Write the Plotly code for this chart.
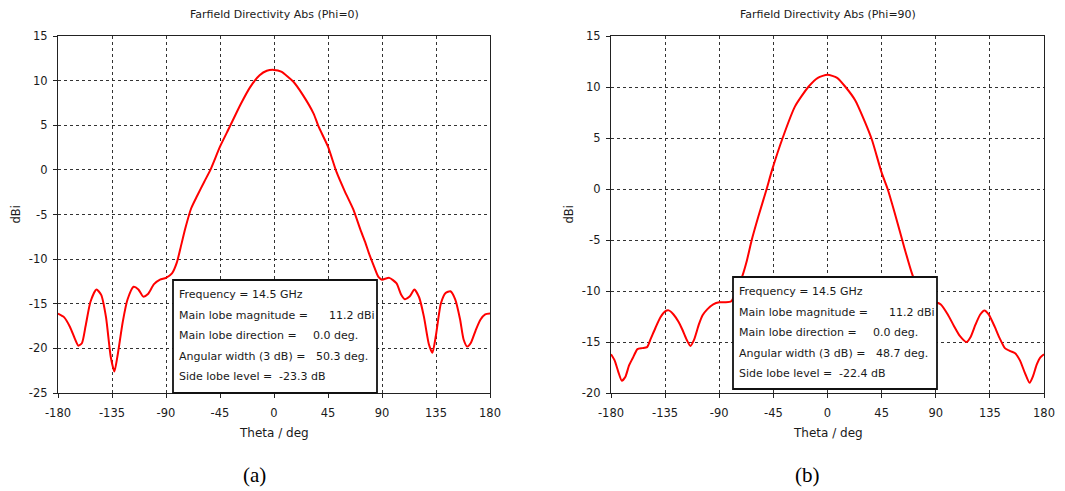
import plotly.graph_objects as go

W, H = 1065, 491

# Farfield directivity cut, Phi = 0
theta_phi0 = [-180, -175, -170, -166, -163, -160, -157, -153, -148, -144, -140, -136, -133,
              -130, -126, -122, -117, -113, -109, -105, -100, -95, -90, -85, -81, -78, -74,
              -69, -64, -58, -53, -45, -37, -28, -20, -12, -6, 0, 6, 16, 24, 33, 37, 45, 52,
              59, 66, 72, 76, 79, 83, 87, 90, 96, 102, 106, 109, 113, 117, 121, 125, 129, 132,
              135, 139, 143, 147, 151, 155, 158, 161, 164, 168, 172, 176, 180]
dir_phi0 = [-16.1, -16.5, -17.6, -18.9, -19.7, -19.4, -17.5, -14.8, -13.4, -14.0, -16.5, -21.0,
            -22.6, -20.5, -17.0, -14.5, -13.1, -13.4, -14.2, -13.9, -12.8, -12.3, -12.1, -11.6,
            -10.4, -8.8, -6.6, -4.3, -2.9, -1.3, 0.0, 2.6, 4.8, 7.3, 9.25, 10.6, 11.1, 11.2,
            11.0, 9.9, 8.4, 6.3, 4.9, 2.6, -0.2, -2.4, -4.4, -6.7, -8.1, -9.3, -10.7, -12.0,
            -12.3, -12.1, -12.7, -14.0, -14.5, -14.2, -13.4, -14.3, -16.5, -19.5, -20.5, -18.5,
            -15.0, -13.8, -13.6, -14.5, -16.7, -19.0, -19.8, -19.4, -18.0, -16.8, -16.2, -16.1]

# Farfield directivity cut, Phi = 90
theta_phi90 = [-180, -177, -174, -171, -168, -165, -162, -158, -154, -150, -147, -143, -139,
               -135, -132, -128, -124, -121, -117, -114, -111, -107, -104, -100, -95, -90, -85,
               -80, -75, -71, -67, -63, -57.5, -50.6, -46, -37, -27, -16, -8, 0, 8, 15, 23, 31,
               37, 45, 50, 56, 64, 70, 75, 80, 85, 90, 94, 100, 105, 110, 115.5, 119, 123, 127,
               130.5, 134, 139, 143, 147.5, 152, 156, 160, 164, 168, 171, 174, 177, 180]
dir_phi90 = [-16.2, -16.8, -17.9, -18.8, -18.4, -17.3, -16.6, -15.7, -15.6, -15.5, -14.7, -13.6,
             -12.6, -12.0, -11.9, -12.3, -13.0, -13.7, -14.8, -15.4, -14.8, -13.3, -12.4, -11.8,
             -11.3, -11.1, -11.1, -11.0, -9.8, -8.6, -7.0, -5.0, -2.7, 0.0, 1.9, 5.1, 8.1, 10.0,
             10.9, 11.2, 10.9, 10.0, 8.7, 6.6, 4.8, 1.6, 0.0, -2.4, -5.8, -8.2, -9.8, -10.7,
             -11.0, -11.1, -11.3, -12.3, -13.4, -14.4, -15.0, -14.5, -13.3, -12.3, -11.9, -12.3,
             -13.5, -14.6, -15.6, -15.9, -16.1, -16.8, -18.0, -19.0, -18.3, -17.2, -16.5, -16.2]

theta_ticks = [-180, -135, -90, -45, 0, 45, 90, 135, 180]
dbi_ticks_phi0 = [-25, -20, -15, -10, -5, 0, 5, 10, 15]
dbi_ticks_phi90 = [-20, -15, -10, -5, 0, 5, 10, 15]

titles = ["Farfield Directivity Abs (Phi=0)", "Farfield Directivity Abs (Phi=90)"]
panel_labels = ["(a)", "(b)"]
frequency_ghz = [14.5, 14.5]
main_lobe_mag = [11.2, 11.2]
main_lobe_dir = [0.0, 0.0]
angular_width = [50.3, 48.7]
side_lobe_level = [-23.3, -22.4]


def px(x):
    return x / W


def py(y):
    return 1 - y / H


SANS = "DejaVu Sans, Verdana, sans-serif"
FS = 11
TXT = "#1a1a1a"

fig = go.Figure()
fig.add_trace(go.Scatter(x=theta_phi0, y=dir_phi0, mode="lines", xaxis="x", yaxis="y",
                         line=dict(color="#ff0000", width=2, shape="spline", smoothing=0.6),
                         showlegend=False, hoverinfo="skip"))
fig.add_trace(go.Scatter(x=theta_phi90, y=dir_phi90, mode="lines", xaxis="x2", yaxis="y2",
                         line=dict(color="#ff0000", width=2, shape="spline", smoothing=0.6),
                         showlegend=False, hoverinfo="skip"))

# plot-area pixel frames: (left, right, top, bottom)
frames = [(58, 490, 36, 393), (611, 1044, 36, 393)]
yranges = [[-25, 15], [-20, 15]]
yticks = [dbi_ticks_phi0, dbi_ticks_phi90]

common = dict(showline=True, mirror=True, linecolor="#222", linewidth=1.3,
              ticks="outside", ticklen=4, tickcolor="#222", automargin=False,
              showgrid=True, gridcolor="#333", gridwidth=1, griddash="3px,3px",
              zeroline=False, tickfont=dict(family=SANS, size=11.5, color=TXT))

layout = dict(width=W, height=H, margin=dict(l=0, r=0, t=0, b=0, autoexpand=False),
              paper_bgcolor="white", plot_bgcolor="white", showlegend=False)

for i, (l, r, t, b) in enumerate(frames):
    sfx = "" if i == 0 else str(i + 1)
    layout["xaxis" + sfx] = dict(domain=[px(l), px(r)], range=[-180, 180], tickvals=theta_ticks,
                                 ticktext=[str(v) for v in theta_ticks], ticklabelstandoff=5,
                                 anchor="y" + sfx, **common)
    layout["yaxis" + sfx] = dict(domain=[py(b), py(t)], range=yranges[i], tickvals=yticks[i],
                                 ticktext=[str(v) for v in yticks[i]], ticklabelstandoff=3,
                                 anchor="x" + sfx, **common)

fig.update_layout(**layout)

annotations = []
shapes = []
boxes = [(173, 377, 280, 393), (733, 937, 277, 389)]
for i, (l, r, t, b) in enumerate(frames):
    cx = (l + r) / 2
    annotations.append(dict(text=titles[i], x=px(cx), y=py(14), xref="paper", yref="paper",
                            showarrow=False, xanchor="center", yanchor="middle",
                            font=dict(family=SANS, size=11, color=TXT)))
    annotations.append(dict(text="Theta / deg", x=px(cx), y=py(433), xref="paper", yref="paper",
                            showarrow=False, xanchor="center", yanchor="middle",
                            font=dict(family=SANS, size=12, color=TXT)))
    annotations.append(dict(text="dBi", x=px(l - 43), y=py((t + b) / 2),
                            xref="paper", yref="paper", showarrow=False, textangle=-90,
                            xanchor="center", yanchor="middle",
                            font=dict(family=SANS, size=11.5, color=TXT)))
    annotations.append(dict(text=panel_labels[i], x=px(cx - 20), y=py(475), xref="paper",
                            yref="paper", showarrow=False, xanchor="center", yanchor="middle",
                            font=dict(family="Liberation Serif, Times New Roman, serif",
                                      size=21, color="#000")))

    bl, br, bt, bb = boxes[i]
    shapes.append(dict(type="rect", xref="paper", yref="paper", x0=px(bl), x1=px(br),
                       y0=py(bb), y1=py(bt), fillcolor="white",
                       line=dict(color="#111", width=1.8), layer="above"))
    tx = bl + 4
    lines = [
        ("Frequency = %.1f GHz" % frequency_ghz[i], None, None),
        ("Main lobe magnitude =", "%.1f dBi" % main_lobe_mag[i], 150),
        ("Main lobe direction =", "%.1f deg." % main_lobe_dir[i], 134),
        ("Angular width (3 dB) =", "%.1f deg." % angular_width[i], 137),
        ("Side lobe level =", "%.1f dB" % side_lobe_level[i], 100),
    ]
    for k, (lab, val, off) in enumerate(lines):
        yy = bt + 14.5 + 20.6 * k
        annotations.append(dict(text=lab, x=px(tx), y=py(yy), xref="paper", yref="paper",
                                showarrow=False, xanchor="left", yanchor="middle",
                                font=dict(family=SANS, size=FS, color=TXT)))
        if val is not None:
            annotations.append(dict(text=val, x=px(tx + off), y=py(yy), xref="paper",
                                    yref="paper", showarrow=False, xanchor="left",
                                    yanchor="middle",
                                    font=dict(family=SANS, size=FS, color=TXT)))

fig.update_layout(annotations=annotations, shapes=shapes)
fig.write_html("out.html")
